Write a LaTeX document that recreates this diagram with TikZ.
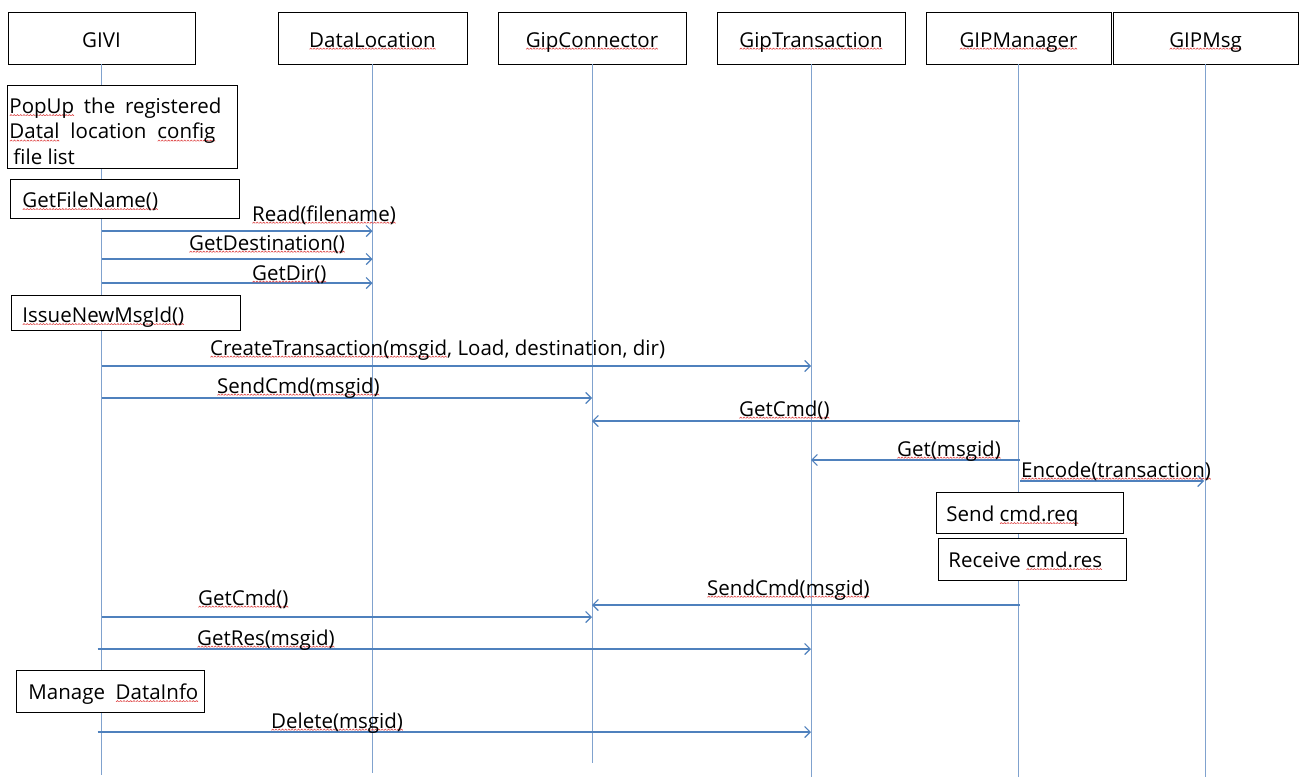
\documentclass[tikz,border=0pt]{standalone}
\usepackage{fontspec}
\setmainfont{Open Sans}
\usetikzlibrary{arrows.meta}

\definecolor{lifeblue}{RGB}{128,162,206}
\definecolor{msgblue}{RGB}{79,129,189}
\definecolor{squig}{RGB}{222,68,68}

% wavy spell-check underline under a word
\newsavebox\zigbox
\newsavebox\sqwordbox
\newcommand\sq[1]{\leavevmode\sbox\sqwordbox{#1}%
  \rlap{\raisebox{-2.6pt}{\hbox to\wd\sqwordbox{\xleaders\copy\zigbox\hfill}}}%
  \usebox\sqwordbox}

\begin{document}
\sbox\zigbox{\begin{pgfpicture}%
  \pgfsetlinewidth{0.6pt}\pgfsetstrokecolor{squig}%
  \pgfpathmoveto{\pgfpoint{0pt}{0pt}}%
  \pgfpathlineto{\pgfpoint{1.3pt}{1.2pt}}%
  \pgfpathlineto{\pgfpoint{2.6pt}{0pt}}%
  \pgfusepath{stroke}%
\end{pgfpicture}}%
\begin{tikzpicture}[x=1pt,y=-1pt,
  every node/.style={font=\fontsize{20.5}{25.5}\selectfont},
  head/.style={draw=black,line width=0.9pt,fill=white,minimum height=52pt,
    inner sep=0pt,text height=21pt,text depth=3pt},
  note/.style={draw=black,line width=0.9pt,fill=white,anchor=north west,inner ysep=0pt},
  life/.style={draw=lifeblue,line width=1pt},
  msg/.style={draw=msgblue,line width=1.2pt,-{Straight Barb[length=5.5pt,width=11pt]}},
  lbl/.style={anchor=base west,inner sep=0pt}]

\useasboundingbox (0,0) rectangle (1305,777);
\fill[white] (0,0) rectangle (1305,777);

% participants
\node[head,minimum width=187pt] (givi) at (101.5,38) {GIVI};
\node[head,minimum width=189pt] (dl)   at (372.5,38) {\sq{DataLocation}};
\node[head,minimum width=188pt] (gc)   at (592,38)   {\sq{GipConnector}};
\node[head,minimum width=188pt] (gt)   at (811,38)   {\sq{GipTransaction}};
\node[head,minimum width=185pt] (gm)   at (1018.5,38) {\sq{GIPManager}};
\node[head,minimum width=185pt] (gmsg) at (1205.5,38) {\sq{GIPMsg}};

% lifeline ends
\coordinate (eGivi) at (0,775);
\coordinate (eDl)   at (0,773);
\coordinate (eGc)   at (0,763);
\coordinate (eLow)  at (0,777);

\draw[life] (givi.south) -- (givi.south |- eGivi);
\draw[life] (dl.south)   -- (dl.south |- eDl);
\draw[life] (gc.south)   -- (gc.south |- eGc);
\draw[life] (gt.south)   -- (gt.south |- eLow);
\draw[life] (gm.south)   -- (gm.south |- eLow);
\draw[life] (gmsg.south) -- (gmsg.south |- eLow);

% activity notes
\node[note,inner xsep=2pt,text height=28pt,text depth=55pt] (popup) at (7,85)
  {\parbox[t]{226pt}{\raggedright
   \makebox[212pt][s]{\sq{PopUp} the registered}\\
   \makebox[206pt][s]{\sq{Datal} location \sq{config}}\\
   \hspace{4pt}file list}};
\node[note,inner xsep=12pt,text height=28pt,text depth=11pt] (getfile) at (10,179)
  {\makebox[205pt][l]{\sq{GetFileName()}}};
\node[note,inner xsep=11pt,text height=27pt,text depth=8pt] (issue) at (11,295)
  {\makebox[207pt][l]{\sq{IssueNewMsgId()}}};
\node[note,inner xsep=10pt,text height=29pt,text depth=12pt] (sendreq) at (936,492)
  {\makebox[167pt][l]{Send \sq{cmd.req}}};
\node[note,inner xsep=10pt,text height=29pt,text depth=13pt] (recvres) at (938,538)
  {\makebox[168pt][l]{Receive \sq{cmd.res}}};
\node[note,inner xsep=12pt,text height=29pt,text depth=13pt] (manage) at (16,670)
  {\makebox[164pt][l]{Manage\ \ \sq{DataInfo}}};

% message rows
\coordinate (m1)  at (0,231);
\coordinate (m2)  at (0,259);
\coordinate (m3)  at (0,283);
\coordinate (m4)  at (0,366);
\coordinate (m5)  at (0,398);
\coordinate (m6)  at (0,421);
\coordinate (m7)  at (0,460);
\coordinate (m8)  at (0,481);
\coordinate (m9)  at (0,605);
\coordinate (m10) at (0,617);
\coordinate (m11) at (0,649);
\coordinate (m12) at (0,732);

\draw[msg] (givi |- m1) -- (dl |- m1);
\draw[msg] (givi |- m2) -- (dl |- m2);
\draw[msg] (givi |- m3) -- (dl |- m3);
\draw[msg] (givi |- m4) -- (gt |- m4);
\draw[msg] (givi |- m5) -- (gc |- m5);
\draw[msg] ([xshift=1.5pt]gm |- m6) -- (gc |- m6);
\draw[msg] ([xshift=1.5pt]gm |- m7) -- (gt |- m7);
\draw[msg] ([xshift=1.5pt]gm |- m8) -- ([xshift=-1.5pt]gmsg |- m8);
\draw[msg] ([xshift=1.5pt]gm |- m9) -- (gc |- m9);
\draw[msg] (givi |- m10) -- (gc |- m10);
\draw[msg] ([xshift=-4pt]givi |- m11) -- (gt |- m11);
\draw[msg] ([xshift=-4pt]givi |- m12) -- (gt |- m12);

% message labels
\node[lbl] (l1)  at (252,221) {\sq{Read(filename)}};
\node[lbl] (l2)  at (189,250) {\sq{GetDestination()}};
\node[lbl] (l3)  at (252,280) {\sq{GetDir()}};
\node[lbl] (l4)  at (210,355) {\sq{CreateTransaction(msgid}, Load, destination, dir)};
\node[lbl] (l5)  at (217,393) {\sq{SendCmd(msgid)}};
\node[lbl] (l6)  at (739,416) {\sq{GetCmd()}};
\node[lbl] (l7)  at (897,456) {\sq{Get(msgid)}};
\node[lbl] (l8)  at (1021,477) {\sq{Encode(transaction)}};
\node[lbl] (l9)  at (707,595) {\sq{SendCmd(msgid)}};
\node[lbl] (l10) at (198,605) {\sq{GetCmd()}};
\node[lbl] (l11) at (197,645) {\sq{GetRes(msgid)}};
\node[lbl] (l12) at (271,728) {\sq{Delete(msgid)}};
\end{tikzpicture}
\end{document}
